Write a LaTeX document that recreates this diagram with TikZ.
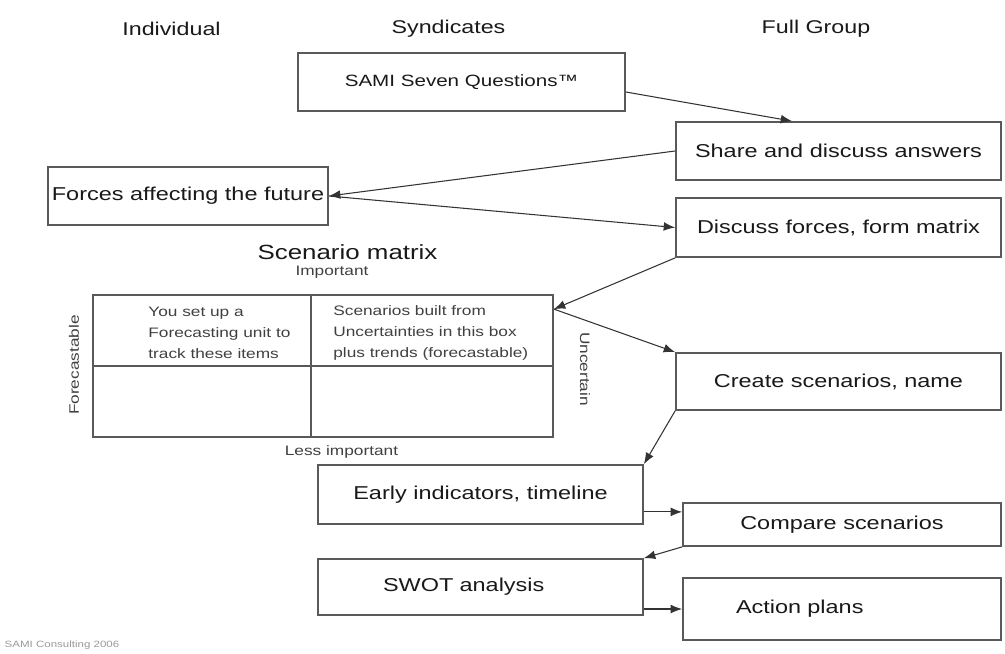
\documentclass[tikz,border=0pt]{standalone}
\usepackage{fontspec}
\setmainfont{Liberation Sans}[FakeStretch=1.26]
\usetikzlibrary{arrows.meta,calc}

\begin{document}
\begin{tikzpicture}[x=0.2mm, y=-0.2mm, >={Latex[length=6.5pt,width=5pt]},
    every node/.style={text=black!90},
    head/.style={font=\fontsize{10.5}{12}\selectfont},
    box/.style={draw=black!65, line width=1pt, inner sep=0pt, align=center, font=\fontsize{10.6}{12.5}\selectfont},
    small/.style={text=black!75, inner sep=0pt, font=\fontsize{7.8}{11.9}\selectfont},
    arrow/.style={->, draw=black!80, line width=0.6pt}]
    \useasboundingbox (0,0) rectangle (1005,653);
    % columns
    \node[head] (indiv) at (171.5,29) {Individual};
    \node[head] (synd) at (448.5,29) {Syndicates};
    \node[head] (full) at (816,29) {Full Group};
    % boxes
    \node[box, minimum width=65.4mm, minimum height=11.6mm, font=\fontsize{9.3}{11}\selectfont] (sami) at (461.5,82) {SAMI Seven Questions™};
    \node[box, minimum width=65mm, minimum height=11.6mm] (share) at (838.5,151) {Share and discuss answers};
    \node[box, minimum width=56mm, minimum height=11.6mm] (forces) at (188,196) {Forces affecting the future};
    \node[box, minimum width=65mm, minimum height=11.8mm] (discuss) at (838.5,227.5) {Discuss forces, form matrix};
    \node[box, minimum width=65mm, minimum height=11.4mm] (create) at (838.5,381.5) {Create scenarios, name};
    \node[box, minimum width=65mm, minimum height=11.8mm] (early) at (480.5,494.5) {Early indicators, timeline};
    \node[box, minimum width=63.6mm, minimum height=8.6mm] (compare) at (842,524.5) {Compare scenarios};
    \node[box, minimum height=11.2mm, inner xsep=13mm, text width=39mm, align=left] (swot) at (480.5,587) {SWOT analysis};
    \node[box, minimum height=12.4mm, inner xsep=10.6mm, text width=42.4mm, align=left] (action) at (842,609) {Action plans};
    % scenario matrix
    \node[font=\fontsize{11.7}{14}\selectfont] (title) at (347.5,252) {Scenario matrix};
    \node[small] (imp) at (332,272) {Important};
    \node[draw=black!65, line width=1pt, minimum width=92mm, minimum height=28.4mm] (grid) at (323,366) {};
    \draw[black!65, line width=1pt] ($(grid.north west)+(219,0)$) -- ($(grid.south west)+(219,0)$);
    \draw[black!65, line width=1pt] (grid.west) -- (grid.east);
    \node[small, anchor=west, align=left] (cellA) at (148,333) {You set up a\\Forecasting unit to\\track these items};
    \node[small, anchor=west, align=left] (cellB) at (333,333) {Scenarios built from\\Uncertainties in this box\\plus trends (forecastable)};
    \node[small] (lessimp) at (341.5,452) {Less important};
    \node[small, rotate=90] (fore) at (74,365) {Forecastable};
    \node[small, rotate=-90] (unc) at (585,369) {Uncertain};
    \coordinate (gridin) at ($(grid.north east)+(0,15)$);
    \coordinate (earlyout) at ($(early.south east)+(0,-13)$);
    % flow
    \draw[arrow] ($(sami.east)+(0,10)$) -- ($(share.north west)+(117,0)$);
    \draw[arrow] (share.west) -- (forces.east);
    \draw[arrow] (forces.east) -- (discuss.west);
    \draw[arrow] (discuss.south west) -- (gridin);
    \draw[arrow] (gridin) -- (create.north west);
    \draw[arrow] (create.south west) -- (early.north east);
    \draw[arrow] (earlyout) -- (earlyout -| compare.west);
    \draw[arrow] (compare.south west) -- (swot.north east);
    \draw[arrow] (action.west -| swot.east) -- (action.west);
    \node[text=black!40, font=\fontsize{5.2}{6}\selectfont] (copy) at (62,645) {SAMI Consulting 2006};
\end{tikzpicture}
\end{document}
